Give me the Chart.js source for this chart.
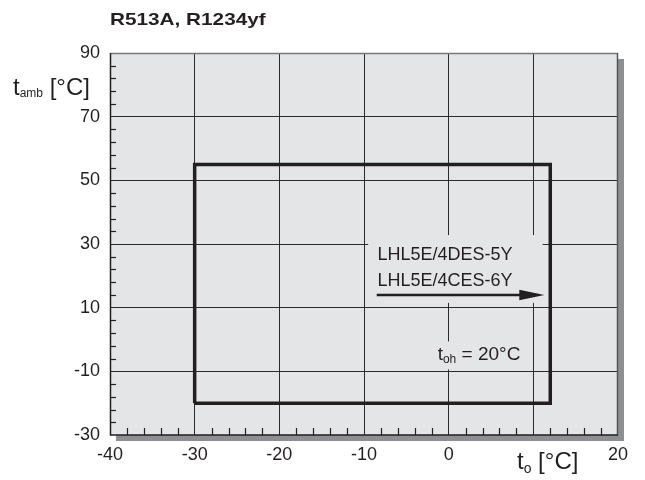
<!DOCTYPE html>
<html lang="de">
<head>
  <meta charset="UTF-8">
  <title>R513A, R1234yf</title>
  <script src="https://cdn.jsdelivr.net/npm/chart.js@4/dist/chart.umd.min.js"></script>
  <style>
    body { margin: 0; background: #fff; }
    canvas { display: block; }
  </style>
</head>
<body>
  <canvas id="envChart" width="645" height="480"></canvas>
  <script>
    // Einsatzgrenze: to (Verdampfung) gegen tamb (Umgebung)
    const toRange = [-40, 20];
    const tambRange = [-30, 90];
    const toStep = 10;
    const tambStep = 20;
    const toHiddenLabels = [10]; // dort steht der Achsentitel

    const envelopeTo = [-30, -30, 12, 12, -30];
    const envelopeTamb = [-20, 55, 55, -20, -20];

    const arrowTo = [-8.5, 11.3];
    const arrowTamb = [14, 14];

    const modelLines = ['LHL5E/4DES-5Y', 'LHL5E/4CES-6Y'];

    const FONT = "'Liberation Sans', Arial, sans-serif";
    const INK = '#231f20';

    const toXY = (xs, ys) => xs.map((x, i) => ({ x: x, y: ys[i] }));

    // t mit tiefgestelltem Index
    function subLabel(ctx, x, y, main, sub, rest, size, subSize, drop) {
      ctx.font = size + 'px ' + FONT;
      ctx.fillText(main, x, y);
      x += ctx.measureText(main).width;
      ctx.font = subSize + 'px ' + FONT;
      ctx.fillText(sub, x, y + drop);
      x += ctx.measureText(sub).width;
      ctx.font = size + 'px ' + FONT;
      ctx.fillText(rest, x, y);
    }

    const decor = {
      id: 'decor',
      beforeDraw(chart) {
        const { ctx, chartArea: a } = chart;
        ctx.save();
        // Schatten
        ctx.fillStyle = '#8e8f92';
        ctx.fillRect(a.right, a.top + 6, 6, a.bottom - a.top);
        ctx.fillRect(a.left + 6, a.bottom, a.right - a.left, 6);
        ctx.fillStyle = '#e4e5e7';
        ctx.fillRect(a.left, a.top, a.right - a.left, a.bottom - a.top);
        ctx.restore();
      },
      beforeDatasetsDraw(chart) {
        const { ctx, scales: { x, y } } = chart;
        ctx.save();
        // Textfelder decken das Raster ab
        ctx.fillStyle = '#e4e5e7';
        ctx.fillRect(x.getPixelForValue(-9.5), y.getPixelForValue(32.8),
          x.getPixelForValue(11.1) - x.getPixelForValue(-9.5),
          y.getPixelForValue(11.5) - y.getPixelForValue(32.8));
        ctx.fillRect(x.getPixelForValue(-1.6), y.getPixelForValue(-0.6),
          x.getPixelForValue(8.9) - x.getPixelForValue(-1.6),
          y.getPixelForValue(-9.4) - y.getPixelForValue(-0.6));

        ctx.fillStyle = INK;
        ctx.textBaseline = 'middle';
        ctx.textAlign = 'left';
        ctx.font = '18px ' + FONT;
        ctx.fillText(modelLines[0], x.getPixelForValue(-8.4), y.getPixelForValue(26.5));
        ctx.fillText(modelLines[1], x.getPixelForValue(-8.4), y.getPixelForValue(18.4));

        subLabel(ctx, x.getPixelForValue(-1.3), y.getPixelForValue(-4.9),
          't', 'oh', ' = 20°C', 19, 12, 5);
        ctx.restore();
      },
      afterDatasetsDraw(chart) {
        const { ctx, chartArea: a, scales: { x, y } } = chart;
        ctx.save();
        // Pfeilspitze
        const tipX = x.getPixelForValue(arrowTo[1]);
        const tipY = y.getPixelForValue(arrowTamb[1]);
        ctx.fillStyle = INK;
        ctx.beginPath();
        ctx.moveTo(tipX, tipY);
        ctx.lineTo(tipX - 25, tipY - 5.3);
        ctx.lineTo(tipX - 25, tipY + 5.3);
        ctx.closePath();
        ctx.fill();

        // Rahmen
        ctx.lineWidth = 1.5;
        ctx.strokeStyle = '#7a7a7c';
        ctx.beginPath();
        ctx.moveTo(a.left, a.top + 0.5);
        ctx.lineTo(a.right, a.top + 0.5);
        ctx.stroke();
        ctx.strokeStyle = '#555557';
        ctx.beginPath();
        ctx.moveTo(a.right - 0.5, a.top);
        ctx.lineTo(a.right - 0.5, a.bottom);
        ctx.stroke();
        ctx.strokeStyle = INK;
        ctx.beginPath();
        ctx.moveTo(a.left + 0.5, a.top);
        ctx.lineTo(a.left + 0.5, a.bottom);
        ctx.lineTo(a.right, a.bottom);
        ctx.stroke();

        // Zwischenstriche
        ctx.lineWidth = 1.2;
        for (let v = toRange[0] + 2; v < toRange[1]; v += 2) {
          if (v % toStep === 0) continue;
          const p = Math.round(x.getPixelForValue(v)) + 0.5;
          ctx.beginPath();
          ctx.moveTo(p, a.bottom);
          ctx.lineTo(p, a.bottom - 7);
          ctx.stroke();
        }
        for (let v = tambRange[0] + 4; v < tambRange[1]; v += 4) {
          if ((v - tambRange[0]) % tambStep === 0) continue;
          const p = Math.round(y.getPixelForValue(v)) + 0.5;
          ctx.beginPath();
          ctx.moveTo(a.left, p);
          ctx.lineTo(a.left + 6, p);
          ctx.stroke();
        }

        // Titel
        ctx.fillStyle = INK;
        ctx.textBaseline = 'middle';
        ctx.textAlign = 'left';
        ctx.save();
        ctx.translate(a.left, 20);
        ctx.scale(1.22, 1);
        ctx.font = 'bold 17px ' + FONT;
        ctx.fillText('R513A, R1234yf', 0, 0);
        ctx.restore();

        // Achsentitel
        subLabel(ctx, 13, 88, 't', 'amb', ' [°C]', 24, 12, 6);
        subLabel(ctx, 517, 462, 't', 'o', ' [°C]', 24, 14, 7);
        ctx.restore();
      }
    };

    const gridColor = (lo, hi) => (c) => {
      const v = c.tick ? c.tick.value : null;
      return (v === lo || v === hi) ? 'rgba(0,0,0,0)' : '#2b2b2d';
    };

    new Chart(document.getElementById('envChart'), {
      type: 'scatter',
      data: {
        datasets: [
          {
            label: 'Einsatzgrenze',
            data: toXY(envelopeTo, envelopeTamb),
            showLine: true,
            borderColor: INK,
            borderWidth: 3.5,
            borderJoinStyle: 'miter',
            pointRadius: 0,
            fill: false
          },
          {
            label: 'Pfeil',
            data: toXY([arrowTo[0], arrowTo[1] - 2.5], arrowTamb),
            showLine: true,
            borderColor: INK,
            borderWidth: 2.5,
            pointRadius: 0,
            fill: false
          }
        ]
      },
      options: {
        responsive: false,
        animation: false,
        layout: { padding: { top: 53, right: 27, left: 0, bottom: 0 } },
        plugins: {
          legend: { display: false },
          tooltip: { enabled: false }
        },
        scales: {
          x: {
            type: 'linear',
            min: toRange[0],
            max: toRange[1],
            afterFit: (s) => { s.height = 45; },
            border: { display: false },
            grid: { color: gridColor(toRange[0], toRange[1]), lineWidth: 1, drawTicks: false },
            ticks: {
              stepSize: toStep, color: INK, padding: 9, font: { family: FONT, size: 18 },
              callback: (v) => toHiddenLabels.includes(v) ? '' : v
            }
          },
          y: {
            type: 'linear',
            min: tambRange[0],
            max: tambRange[1],
            afterFit: (s) => { s.width = 110; },
            border: { display: false },
            grid: { color: gridColor(tambRange[0], tambRange[1]), lineWidth: 1, drawTicks: false },
            ticks: { stepSize: tambStep, color: INK, padding: 10, font: { family: FONT, size: 18 } }
          }
        }
      },
      plugins: [decor]
    });
  </script>
</body>
</html>
